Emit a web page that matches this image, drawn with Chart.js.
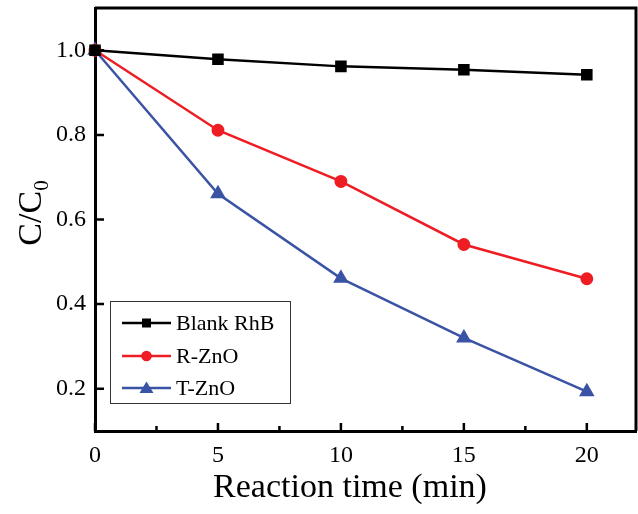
<!DOCTYPE html>
<html>
<head>
<meta charset="utf-8">
<script src="https://cdn.jsdelivr.net/npm/chart.js@4.4.1/dist/chart.umd.min.js"></script>
<style>
  html, body { margin: 0; padding: 0; background: #fff; }
  #wrap { width: 638px; height: 514px; }
</style>
</head>
<body>
<div id="wrap"><canvas id="myChart" width="638" height="514"></canvas></div>
<script>
// reaction time (min)
const times = [0, 5, 10, 15, 20];
const blankRhB = [1.0, 0.979, 0.962, 0.954, 0.942];
const rZnO = [1.0, 0.811, 0.69, 0.541, 0.46];
const tZnO = [1.0, 0.661, 0.461, 0.32, 0.193];
const xTicks = [0, 5, 10, 15, 20];
const yTicks = [0.2, 0.4, 0.6, 0.8, 1.0];
const xTitle = 'Reaction time (min)';

const SERIF = "'Liberation Serif', 'Times New Roman', serif";

const pts = arr => arr.map((v, i) => ({ x: times[i], y: v }));

// kill the auto label padding so the plot box sits where the original is
const noPad = s => { s.paddingTop = 0; s.paddingBottom = 0; s.paddingLeft = 0; s.paddingRight = 0; };

// inward ticks + top/right frame
const frame = {
  id: 'frame',
  beforeDatasetsDraw(chart) {
    const { ctx, chartArea: a, scales: { x, y } } = chart;
    ctx.save();
    ctx.strokeStyle = '#000';
    ctx.lineWidth = 3;
    ctx.beginPath();
    ctx.moveTo(a.left, a.top); ctx.lineTo(a.right, a.top); ctx.lineTo(a.right, a.bottom);
    ctx.stroke();
    ctx.lineWidth = 2.5;
    ctx.beginPath();
    for (let v = 0; v <= 20; v += 2.5) {
      const px = x.getPixelForValue(v);
      const len = (v % 5 === 0) ? 8 : 5;
      ctx.moveTo(px, a.bottom); ctx.lineTo(px, a.bottom - len);
    }
    yTicks.forEach(v => {
      const py = y.getPixelForValue(v);
      ctx.moveTo(a.left, py); ctx.lineTo(a.left + 9, py);
    });
    ctx.stroke();
    ctx.restore();
  },
  afterDraw(chart) {
    const { ctx } = chart;
    ctx.save();
    ctx.fillStyle = '#000';
    // x axis title
    ctx.font = '34px ' + SERIF;
    ctx.textAlign = 'center';
    ctx.textBaseline = 'alphabetic';
    ctx.fillText(xTitle, 350, 497);
    ctx.textAlign = 'left';
    // y axis title C/C0 with subscript
    ctx.translate(41, 213);
    ctx.rotate(-Math.PI / 2);
    ctx.font = '34px ' + SERIF;
    const w1 = ctx.measureText('C/C').width;
    ctx.font = '21px ' + SERIF;
    const w2 = ctx.measureText('0').width;
    const start = -(w1 + w2) / 2;
    ctx.font = '34px ' + SERIF;
    ctx.fillText('C/C', start, 0);
    ctx.font = '21px ' + SERIF;
    ctx.fillText('0', start + w1, 7);
    ctx.restore();

    // legend box
    ctx.save();
    ctx.strokeStyle = '#333';
    ctx.lineWidth = 1;
    ctx.strokeRect(110.5, 301.5, 180, 102);
    const rows = [323, 356, 388];
    chart.data.datasets.forEach((ds, i) => {
      const yy = rows[i];
      ctx.strokeStyle = ds.borderColor;
      ctx.fillStyle = ds.borderColor;
      ctx.lineWidth = 2.5;
      ctx.beginPath();
      ctx.moveTo(122, yy); ctx.lineTo(171, yy);
      ctx.stroke();
      const cx = 146.5;
      ctx.beginPath();
      if (ds.pointStyle === 'rect') {
        ctx.rect(cx - 4.5, yy - 4.5, 9, 9);
      } else if (ds.pointStyle === 'circle') {
        ctx.arc(cx, yy, 5.3, 0, Math.PI * 2);
      } else {
        ctx.moveTo(cx, yy - 6.5); ctx.lineTo(cx + 7, yy + 5); ctx.lineTo(cx - 7, yy + 5); ctx.closePath();
      }
      ctx.fill();
      ctx.fillStyle = '#000';
      ctx.font = '22px ' + SERIF;
      ctx.textBaseline = 'middle';
      ctx.fillText(ds.label, 176, yy + 1);
    });
    ctx.restore();
  }
};

const ctx = document.getElementById('myChart').getContext('2d');
new Chart(ctx, {
  type: 'line',
  data: {
    datasets: [
      { label: 'Blank RhB', data: pts(blankRhB), borderColor: '#000000', backgroundColor: '#000000',
        pointStyle: 'rect', pointRadius: 6.4, borderWidth: 2.5 },
      { label: 'R-ZnO', data: pts(rZnO), borderColor: '#ee1d24', backgroundColor: '#ee1d24',
        pointStyle: 'circle', pointRadius: 5.2, borderWidth: 2.5 },
      { label: 'T-ZnO', data: pts(tZnO), borderColor: '#3a53a4', backgroundColor: '#3a53a4',
        pointStyle: 'triangle', pointRadius: 6.5, borderWidth: 2.5 }
    ]
  },
  options: {
    responsive: false,
    animation: false,
    clip: false,
    layout: { autoPadding: false, padding: { top: 8, right: 2, left: 0, bottom: 0 } },
    elements: { line: { tension: 0, fill: false }, point: { borderWidth: 0 } },
    plugins: { legend: { display: false }, tooltip: { enabled: false } },
    scales: {
      x: {
        type: 'linear', min: 0, max: 22,
        afterFit: s => { s.height = 83; noPad(s); },
        afterBuildTicks: s => { s.ticks = xTicks.map(v => ({ value: v })); },
        grid: { display: false, drawTicks: false },
        border: { display: true, color: '#000', width: 3 },
        ticks: { color: '#000', padding: 10, maxRotation: 0, font: { family: SERIF, size: 24 } }
      },
      y: {
        type: 'linear', min: 0.1, max: 1.1,
        afterFit: s => { s.width = 95; noPad(s); },
        afterBuildTicks: s => { s.ticks = yTicks.map(v => ({ value: v })); },
        grid: { display: false, drawTicks: false },
        border: { display: true, color: '#000', width: 3 },
        ticks: { color: '#000', padding: 9, font: { family: SERIF, size: 24 },
          callback: v => v.toFixed(1) }
      }
    }
  },
  plugins: [frame]
});
</script>
</body>
</html>
